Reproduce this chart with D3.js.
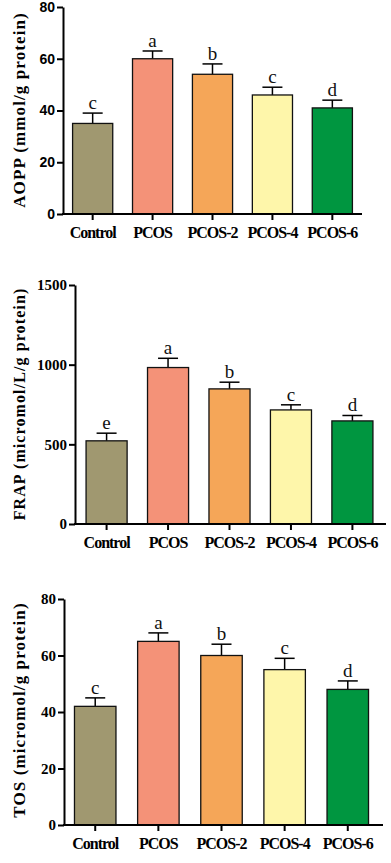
<!DOCTYPE html>
<html>
<head>
<meta charset="utf-8">
<script src="https://cdn.jsdelivr.net/npm/d3@7"></script>
<style>
  body { margin: 0; background: #fff; }
  svg { display: block; }
</style>
</head>
<body>
<svg id="chart" width="391" height="863"></svg>
<script>
const groups = ["Control", "PCOS", "PCOS-2", "PCOS-4", "PCOS-6"]
const barColors = ["#a09870", "#f49278", "#f5a658", "#fef6aa", "#009640"]

// AOPP (mmol/g protein)
const aoppMean = [35, 60, 54, 46, 41]
const aoppErr = [4, 3, 4, 3, 3]
const aoppLetters = ["c", "a", "b", "c", "d"]
const aoppTicks = [0, 20, 40, 60, 80]

// FRAP (micromol/L/g protein)
const frapMean = [522, 982, 848, 716, 647]
const frapErr = [48, 58, 42, 32, 34]
const frapLetters = ["e", "a", "b", "c", "d"]
const frapTicks = [0, 500, 1000, 1500]

// TOS (micromol/g protein)
const tosMean = [42, 65, 60, 55, 48]
const tosErr = [3, 3, 4, 4, 3]
const tosLetters = ["c", "a", "b", "c", "d"]
const tosTicks = [0, 20, 40, 60, 80]

const svg = d3.select("#chart")

const panels = [
  {
    title: "AOPP (mmol/g protein)", mean: aoppMean, err: aoppErr, letters: aoppLetters, ticks: aoppTicks,
    x0: 63, x1: 362, axisEnd: 362, padIn: 0.33, padOut: 0.16,
    yTop: 7, yBot: 214, titleY: 110, titleSize: 17,
    tickFont: "'Liberation Sans', Arial, sans-serif", tickSize: 14
  },
  {
    title: "FRAP (micromol/L/g protein)", mean: frapMean, err: frapErr, letters: frapLetters, ticks: frapTicks,
    x0: 75, x1: 384, axisEnd: 386, padIn: 0.332, padOut: 0.18,
    yTop: 285, yBot: 524, titleY: 404, titleSize: 16,
    tickFont: "'Liberation Serif', 'Times New Roman', serif", tickSize: 15
  },
  {
    title: "TOS (micromol/g protein)", mean: tosMean, err: tosErr, letters: tosLetters, ticks: tosTicks,
    x0: 64, x1: 379, axisEnd: 383, padIn: 0.343, padOut: 0.166,
    yTop: 599, yBot: 825, titleY: 710, titleSize: 17,
    tickFont: "'Liberation Serif', 'Times New Roman', serif", tickSize: 15
  }
]

panels.forEach(p => drawPanel(p))

function drawPanel(p) {
  const x = d3.scaleBand()
    .domain(groups)
    .range([p.x0, p.x1])
    .paddingInner(p.padIn)
    .paddingOuter(p.padOut)

  const y = d3.scaleLinear()
    .domain([0, d3.max(p.ticks)])
    .range([p.yBot, p.yTop])

  const g = svg.append("g")
  const rows = groups.map((k, i) => ({ key: k, mean: p.mean[i], err: p.err[i], letter: p.letters[i], color: barColors[i] }))

  // error bars (upper half only) sit behind the bars
  const eb = g.append("g").attr("stroke", "#000").attr("stroke-width", 1.5)
  eb.selectAll("line.v").data(rows).join("line")
    .attr("class", "v")
    .attr("x1", d => x(d.key) + x.bandwidth() / 2)
    .attr("x2", d => x(d.key) + x.bandwidth() / 2)
    .attr("y1", d => y(d.mean))
    .attr("y2", d => y(d.mean + d.err))
  eb.selectAll("line.cap").data(rows).join("line")
    .attr("class", "cap")
    .attr("x1", d => x(d.key) + x.bandwidth() / 2 - 10)
    .attr("x2", d => x(d.key) + x.bandwidth() / 2 + 10)
    .attr("y1", d => y(d.mean + d.err))
    .attr("y2", d => y(d.mean + d.err))

  g.append("g").selectAll("rect").data(rows).join("rect")
    .attr("x", d => x(d.key))
    .attr("y", d => y(d.mean))
    .attr("width", x.bandwidth())
    .attr("height", d => y(0) - y(d.mean))
    .attr("fill", d => d.color)
    .attr("stroke", "#111")
    .attr("stroke-width", 1.3)

  // significance letters
  g.append("g").selectAll("text").data(rows).join("text")
    .attr("x", d => x(d.key) + x.bandwidth() / 2)
    .attr("y", d => y(d.mean + d.err) - 4)
    .attr("text-anchor", "middle")
    .style("font", "19px 'Liberation Serif', 'Times New Roman', serif")
    .attr("fill", "#111")
    .text(d => d.letter)

  // y axis
  const yAxis = g.append("g")
    .attr("transform", `translate(${p.x0},0)`)
    .call(d3.axisLeft(y).tickValues(p.ticks).tickFormat(d3.format("d"))
      .tickSize(6).tickSizeOuter(0).tickPadding(2))
  yAxis.select(".domain").attr("stroke-width", 2)
  yAxis.selectAll(".tick line").attr("stroke-width", 2)
  yAxis.selectAll(".tick text")
    .style("font-family", p.tickFont)
    .style("font-size", p.tickSize + "px")
    .style("font-weight", "bold")
    .attr("fill", "#000")

  // x axis
  const xAxis = g.append("g")
    .attr("transform", `translate(0,${p.yBot})`)
    .call(d3.axisBottom(x).tickSize(6).tickSizeOuter(0).tickPadding(7))
  xAxis.select(".domain").remove()
  xAxis.append("line")
    .attr("x1", p.x0 - 1).attr("x2", p.axisEnd)
    .attr("stroke", "#000").attr("stroke-width", 2)
  xAxis.selectAll(".tick line").attr("stroke-width", 2)
  xAxis.selectAll(".tick text")
    .style("font-family", "'Liberation Serif', 'Times New Roman', serif")
    .style("font-size", "16px")
    .style("font-weight", "bold")
    .style("letter-spacing", "-1px")
    .attr("fill", "#000")

  // y title
  g.append("text")
    .attr("transform", `translate(19,${p.titleY}) rotate(-90)`)
    .attr("text-anchor", "middle")
    .attr("dy", "0.35em")
    .style("font-family", "'Liberation Serif', 'Times New Roman', serif")
    .style("font-size", p.titleSize + "px")
    .style("font-weight", "bold")
    .style("letter-spacing", "1.1px")
    .text(p.title)
}
</script>
</body>
</html>
